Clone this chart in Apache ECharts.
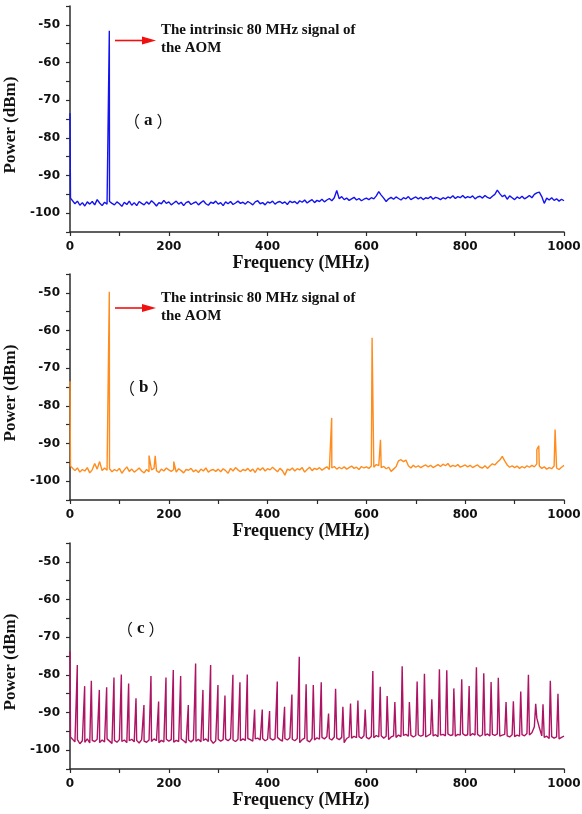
<!DOCTYPE html>
<html>
<head>
<meta charset="utf-8">
<script src="https://cdn.jsdelivr.net/npm/echarts@6/dist/echarts.min.js"></script>
<style>
  html, body { margin: 0; padding: 0; background: #fff; }
  #chart0 { width: 582px; height: 814px; }
</style>
</head>
<body>
<div id="chart0"></div>
<script>
// noise floor, one value every 5 MHz from 5 to 1000 MHz
var freqStep = 5

var noiseA = [
  -96.2, -97.5, -96.8, -97.9, -97.2, -98.1, -97.0, -97.6, -96.9, -97.8,
  -96.4, -97.3, -98.0, -97.1, -97.6, -96.9, -97.4, -97.8, -97.0, -97.5,
  -98.2, -97.1, -97.7, -96.8, -97.9, -97.2, -98.0, -96.9, -97.4, -97.8,
  -97.0, -97.6, -96.7, -97.3, -98.1, -97.2, -97.5, -96.6, -97.4, -97.0,
  -97.8, -97.3, -96.8, -97.6, -97.1, -98.0, -97.2, -96.9, -97.7, -97.3,
  -97.0, -97.8, -97.2, -96.7, -97.5, -97.9, -97.1, -97.4, -96.8, -97.6,
  -97.2, -98.0, -97.0, -97.5, -96.9, -97.7, -97.3, -96.8, -97.4, -97.1,
  -97.6, -96.9, -97.3, -97.8, -97.0, -96.7, -97.5, -97.2, -97.8, -97.0,
  -97.3, -96.8, -97.6, -97.1, -96.9, -97.4, -97.0, -97.7, -96.8, -97.2,
  -96.9, -97.5, -96.7, -97.1, -96.5, -97.3, -96.8, -96.4, -97.2, -96.6,
  -96.9, -96.3, -97.0, -96.5, -96.1, -96.7, -95.9, -94.0, -96.2, -95.6,
  -96.4, -96.0, -96.6, -96.2, -95.8, -96.5, -96.1, -96.7, -96.3, -96.0,
  -96.4, -95.9, -96.2, -95.4, -94.3, -95.2, -96.0, -96.9, -96.2, -95.8,
  -96.3, -95.7, -96.1, -96.5, -95.9, -96.2, -95.6, -96.4, -96.0, -95.7,
  -96.2, -95.8, -96.4, -95.9, -96.1, -95.6, -96.3, -95.8, -96.0, -96.4,
  -95.9, -96.2, -95.7, -96.0, -95.4, -96.1, -95.6, -95.9, -95.3, -96.0,
  -95.6, -95.9, -95.4, -96.2, -95.7, -95.5, -96.0, -95.3, -95.8, -96.1,
  -95.5, -95.0, -93.9, -94.8, -95.6, -95.2, -96.3, -95.4, -95.9, -96.4,
  -95.7, -96.1, -95.5, -96.2, -95.8, -95.3, -95.9, -95.0, -94.6, -94.4,
  -95.6, -97.4, -96.0, -96.5, -95.9, -96.6, -96.2, -96.8, -96.3, -96.7
]
var peaksA = [[0, -73.5], [1, -96.0], [79.6, -51.6]]

var noiseB = [
  -96.0, -97.2, -96.5, -97.6, -96.9, -97.3, -96.4, -97.8, -97.0, -95.3,
  -96.8, -94.8, -97.2, -96.5, -97.1, -96.7, -97.5, -96.9, -97.3, -96.6,
  -97.9, -97.0, -96.2, -97.4, -96.8, -97.6, -97.1, -96.5, -97.3, -97.8,
  -96.9, -97.5, -97.0, -96.6, -97.2, -97.7, -96.8, -97.3, -96.5, -97.0,
  -97.4, -96.9, -97.6, -96.7, -97.2, -97.8, -96.9, -97.1, -96.6, -97.5,
  -97.0, -97.7, -96.8, -97.3, -96.5, -97.6, -97.1, -96.9, -97.4, -96.8,
  -97.5, -96.7, -97.2, -97.9, -96.6, -97.3, -96.4, -97.0, -97.5, -96.9,
  -97.2, -96.6, -97.4, -96.8, -97.7, -96.5, -97.1, -96.4, -97.3, -96.7,
  -97.0, -96.3, -96.9, -97.5, -96.6, -97.2, -98.4, -96.8, -97.1, -96.5,
  -97.3, -96.7, -97.0, -96.4, -97.6, -96.9, -96.3, -97.2, -96.6, -96.9,
  -96.4, -97.1, -96.6, -96.2, -96.9, -96.5, -96.1, -96.8, -96.3, -96.7,
  -96.2, -96.8, -96.4, -96.0, -96.6, -96.3, -96.9, -96.1, -96.5, -96.2,
  -96.6, -96.0, -96.3, -95.6, -95.9, -96.4, -96.1, -96.7, -96.3, -97.4,
  -96.8, -96.2, -94.6, -94.3, -94.8, -94.4, -95.9, -96.5, -95.8, -96.3,
  -95.9, -96.4, -96.0, -95.7, -96.2, -95.8, -96.4, -96.0, -95.6, -96.1,
  -95.5, -95.9, -95.3, -96.2, -95.8, -96.1, -95.6, -96.3, -96.0, -95.7,
  -96.2, -95.8, -96.4, -96.0, -95.7, -96.3, -96.5, -95.9, -96.6, -96.0,
  -95.4, -95.7, -95.0, -94.4, -93.4, -94.6, -95.7, -96.3, -95.9, -96.4,
  -96.0, -96.6, -96.1, -96.5, -95.9, -96.3, -95.8, -96.2, -95.4, -96.0,
  -96.6, -96.2, -96.8, -96.4, -96.7, -96.0, -96.5, -96.9, -96.3, -95.8
]
var peaksB = [
  [0, -73.5], [1, -96.0], [79.6, -49.7], [160, -93.2], [172.5, -93.3],
  [210, -94.8], [529.7, -83.2], [611.5, -61.9], [628.5, -89.0],
  [945, -91.6], [949, -90.6], [982, -86.3]
]

var noiseC = [
  -96.5, -97.8, -97.2, -98.3, -97.5, -97.9, -97.0, -98.1, -97.4, -97.7,
  -97.1, -98.0, -97.3, -97.8, -97.0, -97.6, -98.2, -97.4, -97.9, -97.2,
  -97.7, -97.3, -98.0, -97.5, -97.1, -97.8, -97.4, -98.1, -97.2, -97.6,
  -97.9, -97.3, -97.7, -97.0, -97.5, -98.0, -97.4, -97.8, -97.1, -97.6,
  -97.2, -97.9, -97.4, -97.7, -97.0, -97.5, -98.1, -97.3, -97.8, -97.2,
  -97.6, -97.1, -97.8, -97.4, -97.0, -97.7, -97.3, -98.2, -97.5, -97.1,
  -97.6, -97.2, -97.0, -97.5, -96.9, -97.3, -97.7, -97.1, -97.5, -97.0,
  -97.4, -96.9, -97.2, -97.6, -97.0, -96.8, -97.3, -96.9, -97.5, -97.1,
  -96.8, -97.3, -97.0, -96.6, -97.2, -97.6, -96.9, -97.3, -96.7, -97.1,
  -97.5, -96.9, -98.0, -97.2, -96.8, -97.4, -97.8, -96.9, -97.3, -96.7,
  -97.1, -96.6, -97.0, -96.4, -96.9, -97.3, -96.5, -96.8, -97.2, -96.6,
  -98.0, -96.9, -96.5, -96.8, -96.3, -96.7, -96.4, -96.9, -96.2, -96.6,
  -97.0, -96.4, -96.7, -96.1, -96.5, -96.2, -96.8, -96.3, -97.2, -96.5,
  -96.2, -96.6, -96.0, -96.4, -96.1, -95.8, -96.3, -96.0, -96.5, -96.1,
  -95.9, -96.3, -96.0, -96.5, -96.1, -95.7, -96.2, -95.9, -96.4, -96.0,
  -95.8, -96.2, -95.7, -96.1, -95.9, -96.3, -95.8, -96.0, -95.6, -96.1,
  -95.9, -96.2, -95.6, -96.0, -95.8, -96.3, -95.9, -96.1, -95.7, -96.2,
  -95.8, -96.1, -95.7, -96.3, -96.0, -95.8, -96.2, -96.5, -95.9, -96.4,
  -96.0, -96.3, -95.9, -96.2, -95.6, -96.0, -95.4, -93.8, -91.5, -94.0,
  -96.2, -96.6, -96.3, -96.9, -96.4, -96.8, -96.5, -97.0, -96.6, -96.3
]
var peaksC = [
  [0, -73.8], [1, -96.5],
  [14.8, -77.4], [29.7, -83.0], [43.2, -81.6], [59.4, -84.0], [74.2, -83.3],
  [89.0, -80.7], [103.9, -79.9], [118.7, -82.3], [133.6, -86.2], [149.7, -88.0],
  [163.9, -80.3], [179.4, -87.1], [194.3, -80.7], [209.1, -78.7], [224.0, -80.3],
  [239.5, -88.0], [254.3, -77.0], [269.1, -84.0], [284.7, -77.4], [299.5, -82.7],
  [313.7, -85.5], [329.8, -80.0], [344.0, -82.0], [358.9, -79.9], [373.7, -89.2],
  [389.2, -89.2], [404.0, -89.6], [419.6, -81.8], [434.4, -88.5], [449.2, -85.2],
  [464.1, -75.2], [478.0, -82.5], [492.5, -82.7], [508.6, -82.0], [523.4, -90.3],
  [537.6, -83.7], [552.4, -88.5], [567.9, -87.6], [582.8, -86.8], [597.6, -89.2],
  [613.0, -79.0], [628.0, -83.2], [642.0, -85.6], [657.6, -87.2], [672.4, -77.7],
  [687.0, -87.2], [702.7, -81.8], [717.5, -79.7], [732.4, -86.5], [747.8, -78.5],
  [762.7, -78.8], [777.0, -83.6], [793.0, -81.2], [808.0, -83.0], [822.7, -78.0],
  [837.6, -79.6], [852.4, -81.9], [867.0, -80.8], [882.7, -87.2], [897.5, -87.0],
  [912.4, -84.4], [928.0, -80.0], [942.7, -87.7], [957.5, -87.8], [972.3, -81.6],
  [987.8, -85.0]
]

var panelColors = ['#1414f0', '#ff8c1e', '#ae1464']
var panelTags = ['a', 'b', 'c']
var noteLines = ['The intrinsic 80 MHz signal of', 'the AOM']

function trace(noise, peaks) {
  var pts = noise.map(function (v, i) { return [(i + 1) * freqStep, v] })
  return pts.concat(peaks).sort(function (p, q) { return p[0] - q[0] })
}

var tops = [6, 274, 543]
var axisColor = '#2b2b2b'
var serif = '"Liberation Serif", "Times New Roman", serif'

var grids = tops.map(function (t) {
  return { left: 70, width: 494, top: t, height: 226, outerBoundsMode: 'none' }
})

var xAxes = tops.map(function (t, i) {
  return {
    type: 'value', gridIndex: i, min: 0, max: 1000, interval: 100,
    name: 'Frequency (MHz)', nameLocation: 'middle', nameGap: 21,
    nameTextStyle: { fontFamily: serif, fontWeight: 'bold', fontSize: 18, color: '#111', padding: [0, 32, 0, 0] },
    axisLine: { show: true, onZero: false, lineStyle: { color: axisColor, width: 1.5 } },
    axisTick: { show: true, length: 4, lineStyle: { color: axisColor, width: 1.2 } },
    splitLine: { show: false },
    axisLabel: {
      margin: 9, fontFamily: 'DejaVu Sans', fontWeight: 'bold', fontSize: 12, color: '#111',
      formatter: function (v) { return v % 200 === 0 ? String(v) : '' }
    }
  }
})

var yAxes = tops.map(function (t, i) {
  return {
    type: 'value', gridIndex: i, min: -105, max: -45, interval: 5,
    name: 'Power (dBm)', nameLocation: 'middle', nameGap: 37,
    nameTextStyle: { fontFamily: serif, fontWeight: 'bold', fontSize: 17, color: '#111', padding: [0, 12, 0, 0] },
    axisLine: { show: true, onZero: false, lineStyle: { color: axisColor, width: 1.5 } },
    axisTick: { show: true, length: 4, lineStyle: { color: axisColor, width: 1.2 } },
    splitLine: { show: false },
    axisLabel: {
      margin: 10, fontFamily: 'DejaVu Sans', fontWeight: 'bold', fontSize: 12, color: '#111',
      formatter: function (v) { return v % 10 === 0 ? String(v) : '' }
    }
  }
})

var traces = [trace(noiseA, peaksA), trace(noiseB, peaksB), trace(noiseC, peaksC)]

var series = traces.map(function (d, i) {
  return {
    type: 'line', xAxisIndex: i, yAxisIndex: i, data: d,
    showSymbol: false, symbol: 'none', clip: true,
    lineStyle: { color: panelColors[i], width: 1.4 }
  }
})

function arrow(y) {
  return [
    { type: 'line', shape: { x1: 115, y1: y, x2: 145, y2: y }, style: { stroke: '#f01010', lineWidth: 1.6 } },
    { type: 'polygon', shape: { points: [[142, y - 4], [156, y], [142, y + 4]] }, style: { fill: '#f01010' } }
  ]
}

function note(y) {
  return noteLines.map(function (s, k) {
    return {
      type: 'text', left: 161, top: y + k * 18,
      style: { text: s, fontFamily: serif, fontWeight: 'bold', fontSize: 15, fill: '#111' }
    }
  })
}

var tagPos = [[124, 112], [119, 379], [117, 620]]
var graphics = []
  .concat(arrow(40.5), note(23))
  .concat(arrow(308), note(291))
  .concat(tagPos.map(function (p, i) {
    return {
      type: 'text', left: p[0], top: p[1],
      style: {
        text: '{p|（}{l|' + panelTags[i] + '}{p|）}',
        rich: {
          p: { fontFamily: '"Noto Sans CJK SC"', fontSize: 16, fill: '#111', lineHeight: 20 },
          l: { fontFamily: serif, fontWeight: 'bold', fontSize: 17, fill: '#111', lineHeight: 20, padding: [0, 4, 0, 4] }
        }
      }
    }
  }))

var chart0 = echarts.init(document.getElementById('chart0'))
chart0.setOption({
  animation: false,
  backgroundColor: '#fff',
  grid: grids,
  xAxis: xAxes,
  yAxis: yAxes,
  series: series,
  graphic: graphics
})
</script>
</body>
</html>
